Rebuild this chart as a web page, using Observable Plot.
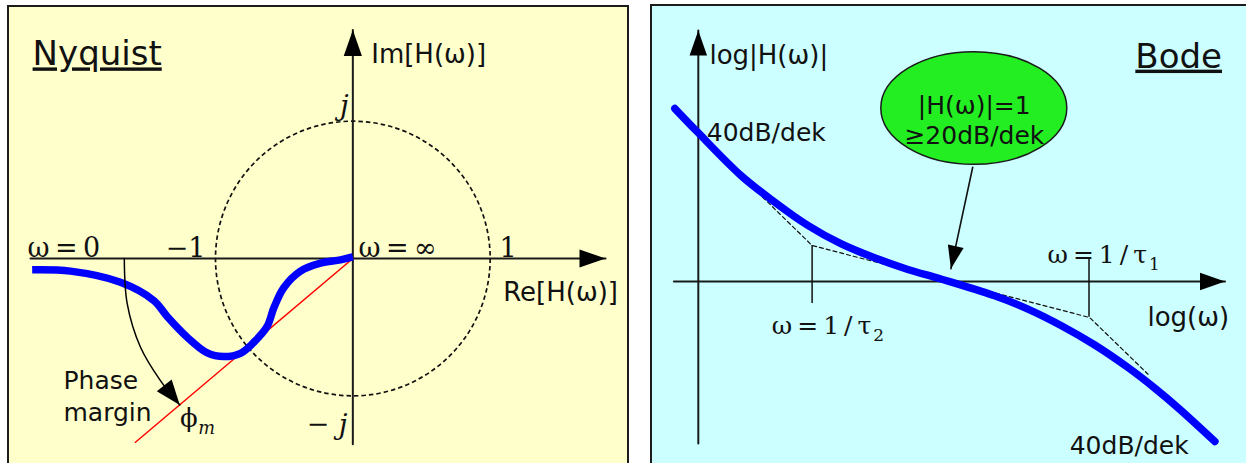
<!DOCTYPE html>
<html><head><meta charset="utf-8">
<script src="https://cdn.jsdelivr.net/npm/d3@7"></script>
<script src="https://cdn.jsdelivr.net/npm/@observablehq/plot@0.6"></script>
<style>
html,body{margin:0;padding:0;background:#fff;overflow:hidden;width:1246px;height:463px;}
#left{position:absolute;left:7px;top:5px;width:618px;height:470px;border:2px solid #1c1c1c;background:#ffffcc;overflow:hidden;}
#right{position:absolute;left:650px;top:4px;width:610px;height:470px;border:2px solid #1c1c1c;background:#ccffff;overflow:hidden;}
svg{display:block;}
</style></head><body>
<div id="left"></div><div id="right"></div>
<script>
// ---------- Nyquist data (units: |H| = 1 is the unit circle) ----------
const nyqRe = [-2.335,-2.056,-1.692,-1.449,-1.352,-1.206,-1.060,-0.940,-0.818,-0.721,-0.624,-0.575,-0.503,-0.381,-0.235,-0.090,0];
const nyqIm = [-0.082,-0.092,-0.173,-0.306,-0.422,-0.573,-0.687,-0.714,-0.690,-0.610,-0.495,-0.359,-0.213,-0.092,-0.034,-0.010,0.012];
const reAxis = [{re:-2.347, im:0}, {re:1.840, im:0}];
const imAxis = [{re:0, im:-1.352}, {re:0, im:1.664}];
const unitCircle = [{re:0, im:0}];
const unitRadius = 1;
const phaseLine = [{re:0, im:0}, {re:-1.583, im:-1.338}];
const marginArrow = [{re:-1.664,im:0},{re:-1.643,im:-0.328},{re:-1.546,im:-0.646},{re:-1.401,im:-0.889},{re:-1.260,im:-1.066}];
const nyqTitle = [{label:"Nyquist", re:-2.332, im:1.478}];
const nyqAxisLabels = [{label:"Im[H(ω)]", re:0.134, im:1.478}, {label:"Re[H(ω)]", re:1.095, im:-0.253}];
const nyqTickStart = [{label:"ω\u2009=\u20090", re:-2.369, im:0.066}, {label:"ω\u2009=\u2009∞", re:0.042, im:0.066}, {label:"1", re:1.068, im:0.066}];
const nyqTickEnd = [{label:"−1", re:-1.073, im:0.066}, {label:"−", re:-0.170, im:-1.216}];
const nyqJ = [{label:"j", re:-0.031, im:1.107}, {label:"j", re:-0.039, im:-1.216}];
const marginText = [{label:"Phase", re:-2.107, im:-0.896}, {label:"margin", re:-2.107, im:-1.129}];
const phiText = [{label:"ϕ_m", re:-1.258, im:-1.175}];

// ---------- Bode data (x: log10 ω in decades from crossover, y: dB) ----------
const bodeLogW = [-1.989,-1.823,-1.514,-1.276,-1.031,-0.793,-0.555,-0.310,-0.072,0.310,0.555,0.793,1.031,1.276,1.463,1.643,1.902];
const bodeDb   = [96.1,82.8,59.0,44.5,31.2,21.0,13.3,6.7,1.4,-7.8,-15.3,-24.4,-35.0,-47.8,-58.9,-70.6,-88.9];
const asymLogW = [-1.43,-1.0,1.0,1.42];
const asymDb   = [52.4,20,-20,-51.5];
const breakTicks = [
  {w:-1, db1:20, db2:-12.2},
  {w:0.995, db1:-19.8, db2:12.8}
];
const magAxis = [{w:-1.82, db:-90}, {w:-1.82, db:139.4}];
const freqAxis = [{w:-1.996, db:0}, {w:1.975, db:0}];
const callout = [{w:0.165, db:96.4, rw:0.67, rdb:31.3}];
const calloutArrow = [{w:0.157, db:63.5}, {w:0, db:7.1}];
const bodeTitle = [{label:"Bode", w:1.953, db:124.3}];
const bodeAxisLabels = [{label:"log|H(ω)|", w:-1.74, db:125}, {label:"log(ω)", w:1.416, db:-20.6}];
const slopeLabels = [{label:"40dB/dek", w:-1.759, db:82.2}, {label:"40dB/dek", w:0.856, db:-91.7}];
const calloutLines = [{label:"|H(ω)|=1", w:0.168, db:97.2}, {label:"≥20dB/dek", w:0.169, db:80.2}];
const breakLabels = [{label:"ω\u2009=\u20091\u2009/\u2009τ_2", w:-1.29, db:-25.4}, {label:"ω\u2009=\u20091\u2009/\u2009τ_1", w:0.696, db:14.1}];

// ---------- helpers ----------
const SANS = "DejaVu Sans", SERIF = "DejaVu Serif";
const head = (ratio) => ({draw(ctx, size) {
  const L = Math.sqrt(size / Math.PI), W = L * ratio;
  ctx.moveTo(0, 0); ctx.lineTo(W, L); ctx.lineTo(-W, L); ctx.closePath();
}});
function ellipseSymbol(rx, ry) {
  const k = 0.5523;
  return {draw(ctx) {
    ctx.moveTo(rx, 0);
    ctx.bezierCurveTo(rx, ry*k, rx*k, ry, 0, ry);
    ctx.bezierCurveTo(-rx*k, ry, -rx, ry*k, -rx, 0);
    ctx.bezierCurveTo(-rx, -ry*k, -rx*k, -ry, 0, -ry);
    ctx.bezierCurveTo(rx*k, -ry, rx, -ry*k, rx, 0);
    ctx.closePath();
  }};
}
function angle(a, b, kx, ky, X, Y) {
  const sx = (b[X] - a[X]) * kx, sy = -(b[Y] - a[Y]) * ky;
  return Math.atan2(sx, -sy) * 180 / Math.PI;
}
function txt(data, X, Y, o) {
  const fs = o.fontSize;
  return Plot.text(data, {x: X, y: Y, text: "label", lineAnchor: "bottom", dy: 0.29 * fs, fill: "#111", ...o});
}
function finish(svg, underlined) {
  for (const t of svg.querySelectorAll("text")) {
    const s = t.textContent;
    if (underlined.includes(s)) t.style.textDecoration = "underline";
    const i = s.indexOf("_");
    if (i < 0) continue;
    const sub = s.slice(i + 1);
    t.textContent = s.slice(0, i);
    const ts = document.createElementNS("http://www.w3.org/2000/svg", "tspan");
    ts.setAttribute("font-size", "0.68em");
    ts.setAttribute("dy", "0.36em");
    if (/[a-z]/.test(sub)) { ts.setAttribute("font-style", "italic"); ts.setAttribute("dx", "0.02em"); }
    else ts.setAttribute("dx", "0.12em");
    ts.textContent = sub;
    t.append(ts);
  }
}

// ---------- Nyquist ----------
{
  const W = 618, H = 457, xd = [-2.5, 2.0], yd = [-1.5, 1.828];
  const kx = W / (xd[1] - xd[0]), ky = H / (yd[1] - yd[0]);
  const curve = nyqRe.map((re, i) => ({re, im: nyqIm[i]}));
  const tips = [
    {...reAxis[1], a: angle(reAxis[0], reAxis[1], kx, ky, "re", "im")},
    {...imAxis[1], a: angle(imAxis[0], imAxis[1], kx, ky, "re", "im")}
  ];
  const n = marginArrow.length;
  const mTip = [{...marginArrow[n-1], a: angle(marginArrow[n-2], marginArrow[n-1], kx, ky, "re", "im")}];
  const svg = Plot.plot({
    width: W, height: H, margin: 0,
    x: {domain: xd, axis: null}, y: {domain: yd, axis: null},
    style: {background: "transparent", overflow: "visible", maxWidth: "none"},
    marks: [
      Plot.dot(unitCircle, {x: "re", y: "im", r: unitRadius * kx, fill: "none", stroke: "#111", strokeWidth: 1.7, strokeDasharray: "4.5,3"}),
      Plot.line(reAxis, {x: "re", y: "im", stroke: "#1a1a1a", strokeWidth: 2}),
      Plot.line(imAxis, {x: "re", y: "im", stroke: "#1a1a1a", strokeWidth: 2}),
      Plot.dot(tips, {x: "re", y: "im", r: 26, symbol: head(0.35), rotate: "a", fill: "#000", stroke: "none"}),
      Plot.line(phaseLine, {x: "re", y: "im", stroke: "#ff0000", strokeWidth: 1.5}),
      Plot.line(curve, {x: "re", y: "im", stroke: "#0000ff", strokeWidth: 7.5, curve: "catmull-rom", strokeLinecap: "butt"}),
      Plot.line(marginArrow, {x: "re", y: "im", stroke: "#000", strokeWidth: 1.5, curve: "catmull-rom"}),
      Plot.dot(mTip, {x: "re", y: "im", r: 25, symbol: head(0.38), rotate: "a", fill: "#000", stroke: "none"}),
      txt(nyqTitle, "re", "im", {fontSize: 34, fontFamily: SANS, textAnchor: "start"}),
      txt(nyqAxisLabels, "re", "im", {fontSize: 26, fontFamily: SANS, textAnchor: "start"}),
      txt(marginText, "re", "im", {fontSize: 25, fontFamily: SANS, textAnchor: "start"}),
      txt(nyqTickStart, "re", "im", {fontSize: 27, fontFamily: SERIF, textAnchor: "start"}),
      txt(nyqTickEnd, "re", "im", {fontSize: 27, fontFamily: SERIF, textAnchor: "end"}),
      txt(nyqJ, "re", "im", {fontSize: 28, fontFamily: SERIF, fontStyle: "italic", textAnchor: "end"}),
      txt(phiText, "re", "im", {fontSize: 26, fontFamily: SERIF, textAnchor: "start"})
    ]
  });
  finish(svg, ["Nyquist"]);
  document.getElementById("left").append(svg);
}

// ---------- Bode ----------
{
  const W = 610, H = 457, xd = [-2.15, 2.245], yd = [-101.1, 152.8];
  const kx = W / (xd[1] - xd[0]), ky = H / (yd[1] - yd[0]);
  const curve = bodeLogW.map((w, i) => ({w, db: bodeDb[i]}));
  const asym = asymLogW.map((w, i) => ({w, db: asymDb[i]}));
  const tips = [
    {...magAxis[1], a: angle(magAxis[0], magAxis[1], kx, ky, "w", "db")},
    {...freqAxis[1], a: angle(freqAxis[0], freqAxis[1], kx, ky, "w", "db")}
  ];
  const cTip = [{...calloutArrow[1], a: angle(calloutArrow[0], calloutArrow[1], kx, ky, "w", "db")}];
  const c = callout[0];
  const svg = Plot.plot({
    width: W, height: H, margin: 0,
    x: {domain: xd, axis: null}, y: {domain: yd, axis: null},
    style: {background: "transparent", overflow: "visible", maxWidth: "none"},
    marks: [
      Plot.line(magAxis, {x: "w", y: "db", stroke: "#1a1a1a", strokeWidth: 2}),
      Plot.line(freqAxis, {x: "w", y: "db", stroke: "#1a1a1a", strokeWidth: 2}),
      Plot.dot(tips, {x: "w", y: "db", r: 25, symbol: head(0.35), rotate: "a", fill: "#000", stroke: "none"}),
      Plot.ruleX(breakTicks, {x: "w", y1: "db1", y2: "db2", stroke: "#111", strokeWidth: 1.5}),
      Plot.line(asym, {x: "w", y: "db", stroke: "#111", strokeWidth: 1.2, strokeDasharray: "4,3"}),
      Plot.line(curve, {x: "w", y: "db", stroke: "#0000ff", strokeWidth: 7.5, curve: "catmull-rom"}),
      Plot.dot(callout, {x: "w", y: "db", symbol: ellipseSymbol(c.rw * kx, c.rdb * ky), r: 10, fill: "#22ee22", stroke: "#1a1a1a", strokeWidth: 1.5}),
      Plot.line(calloutArrow, {x: "w", y: "db", stroke: "#111", strokeWidth: 1.6}),
      Plot.dot(cTip, {x: "w", y: "db", r: 23, symbol: head(0.35), rotate: "a", fill: "#000", stroke: "none"}),
      txt(bodeTitle, "w", "db", {fontSize: 34, fontFamily: SANS, textAnchor: "end"}),
      txt(bodeAxisLabels, "w", "db", {fontSize: 26, fontFamily: SANS, textAnchor: "start"}),
      txt(slopeLabels, "w", "db", {fontSize: 25, fontFamily: SANS, textAnchor: "start"}),
      txt(calloutLines, "w", "db", {fontSize: 25, fontFamily: SANS, textAnchor: "middle"}),
      txt(breakLabels, "w", "db", {fontSize: 25, fontFamily: SERIF, textAnchor: "start"})
    ]
  });
  finish(svg, ["Bode"]);
  document.getElementById("right").append(svg);
}
</script>
</body></html>
